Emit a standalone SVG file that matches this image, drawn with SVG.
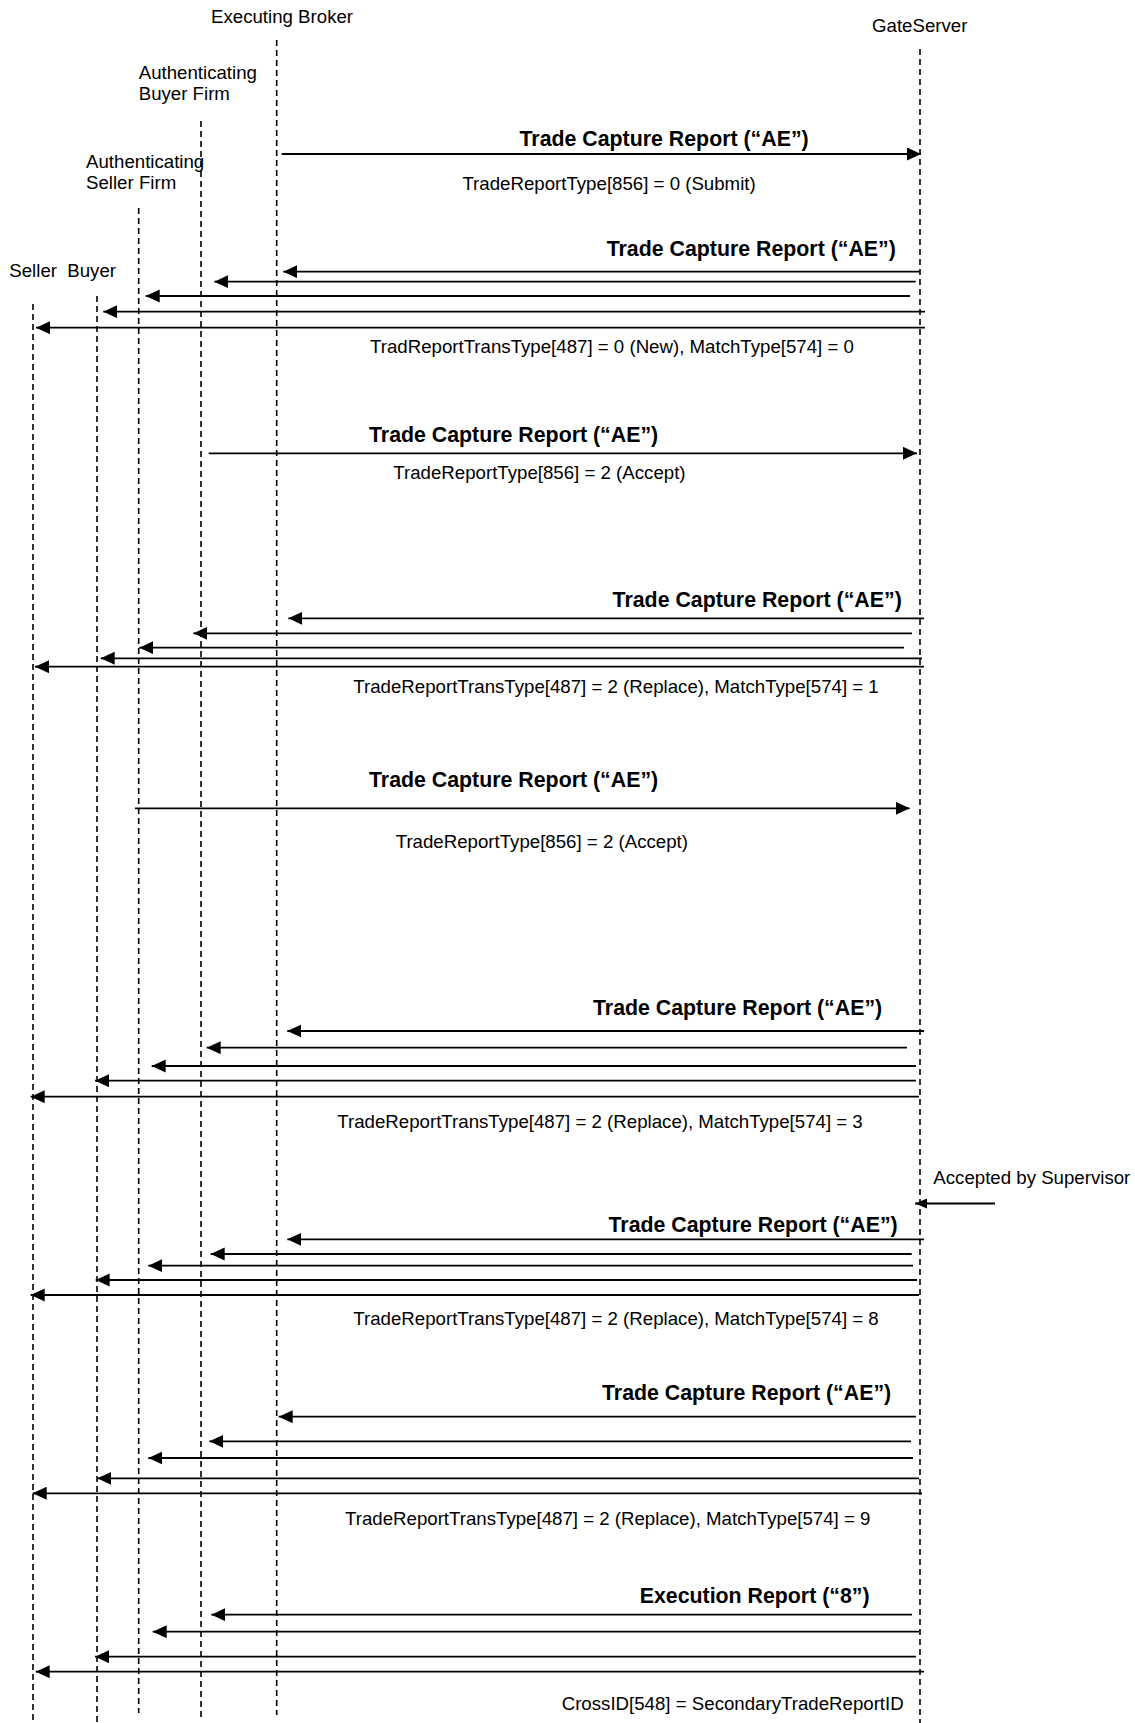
<svg xmlns="http://www.w3.org/2000/svg" width="1135" height="1723" viewBox="0 0 1135 1723">
<style>
text{font-family:"Liberation Sans",Arial,sans-serif;fill:#000}
.h{font-size:18.67px}
.b{font-size:21.33px;font-weight:bold}
.s{font-size:18.67px}
.life{stroke:#000;stroke-width:1.6;stroke-dasharray:6 4;fill:none}
.msg{stroke:#000;stroke-width:1.8;fill:none;marker-end:url(#ah)}
.sup{stroke:#000;stroke-width:1.8;fill:none;marker-end:url(#ahs)}
</style>
<defs>
<marker id="ah" markerUnits="userSpaceOnUse" markerWidth="15" markerHeight="14" refX="14" refY="6.5" orient="auto">
<path d="M0,0 L14,6.5 L0,13 z" fill="#000"/>
</marker>
<marker id="ahs" markerUnits="userSpaceOnUse" markerWidth="13" markerHeight="11" refX="12" refY="5" orient="auto">
<path d="M0,0 L12,5 L0,10 z" fill="#000"/>
</marker>
</defs>
<rect width="1135" height="1723" fill="#fff"/>

<g id="seller">
<text class="h" x="9.3" y="276.7">Seller</text>
<line class="life" x1="33" y1="304" x2="33" y2="1723"/>
</g>
<g id="buyer">
<text class="h" x="67.3" y="276.7">Buyer</text>
<line class="life" x1="97" y1="296" x2="97" y2="1723"/>
</g>
<g id="auth-seller-firm">
<text class="h" x="86" y="168.3">Authenticating</text>
<text class="h" x="86" y="189">Seller Firm</text>
<line class="life" x1="138.7" y1="208" x2="138.7" y2="1713"/>
</g>
<g id="auth-buyer-firm">
<text class="h" x="138.7" y="79.3">Authenticating</text>
<text class="h" x="138.7" y="100">Buyer Firm</text>
<line class="life" x1="201" y1="121" x2="201" y2="1717"/>
</g>
<g id="executing-broker">
<text class="h" x="211" y="22.5">Executing Broker</text>
<line class="life" x1="276.7" y1="40" x2="276.7" y2="1715"/>
</g>
<g id="gateserver">
<text class="h" x="872" y="31.5">GateServer</text>
<line class="life" x1="920" y1="49" x2="920" y2="1723"/>
</g>

<g id="connectors">
<!-- 1: submit -->
<line class="msg" x1="281.7" y1="154" x2="921" y2="154"/>
<!-- 2: new -->
<line class="msg" x1="920" y1="271.7" x2="283.3" y2="271.7"/>
<line class="msg" x1="915.7" y1="281.7" x2="214.3" y2="281.7"/>
<line class="msg" x1="910" y1="296" x2="145.7" y2="296"/>
<line class="msg" x1="925" y1="311.7" x2="103.3" y2="311.7"/>
<line class="msg" x1="925" y1="327.7" x2="36" y2="327.7"/>
<!-- 3: accept buyer -->
<line class="msg" x1="208.7" y1="453.3" x2="917" y2="453.3"/>
<!-- 4: replace 1 -->
<line class="msg" x1="924" y1="618.3" x2="288.3" y2="618.3"/>
<line class="msg" x1="912" y1="633.3" x2="193.3" y2="633.3"/>
<line class="msg" x1="904" y1="647.7" x2="139.3" y2="647.7"/>
<line class="msg" x1="922" y1="658.3" x2="100.7" y2="658.3"/>
<line class="msg" x1="924" y1="666.7" x2="35" y2="666.7"/>
<!-- 5: accept seller -->
<line class="msg" x1="135" y1="808.3" x2="909.7" y2="808.3"/>
<!-- 6: replace 3 -->
<line class="msg" x1="924" y1="1031" x2="287.3" y2="1031"/>
<line class="msg" x1="907" y1="1047.7" x2="206.7" y2="1047.7"/>
<line class="msg" x1="916" y1="1066" x2="151.7" y2="1066"/>
<line class="msg" x1="916" y1="1080.7" x2="95" y2="1080.7"/>
<line class="msg" x1="919" y1="1096.7" x2="30.7" y2="1096.7"/>
<!-- supervisor -->
<line class="sup" x1="995" y1="1203.5" x2="915" y2="1203.5"/>
<!-- 7: replace 8 -->
<line class="msg" x1="924" y1="1239.3" x2="287.3" y2="1239.3"/>
<line class="msg" x1="911.7" y1="1254" x2="210.7" y2="1254"/>
<line class="msg" x1="913" y1="1265.7" x2="148.3" y2="1265.7"/>
<line class="msg" x1="917" y1="1280" x2="95.7" y2="1280"/>
<line class="msg" x1="919" y1="1295" x2="30.7" y2="1295"/>
<!-- 8: replace 9 -->
<line class="msg" x1="916" y1="1416.7" x2="278.7" y2="1416.7"/>
<line class="msg" x1="911" y1="1441.3" x2="209.3" y2="1441.3"/>
<line class="msg" x1="913" y1="1458" x2="148.3" y2="1458"/>
<line class="msg" x1="919" y1="1478.3" x2="97.3" y2="1478.3"/>
<line class="msg" x1="922" y1="1493.3" x2="32.7" y2="1493.3"/>
<!-- 9: execution report -->
<line class="msg" x1="912" y1="1614.7" x2="211.3" y2="1614.7"/>
<line class="msg" x1="919" y1="1631.7" x2="152.7" y2="1631.7"/>
<line class="msg" x1="916" y1="1656.7" x2="95" y2="1656.7"/>
<line class="msg" x1="924" y1="1671.7" x2="35.7" y2="1671.7"/>
</g>

<g id="labels">
<text class="b" x="519.5" y="145.7">Trade Capture Report (“AE”)</text>
<text class="s" x="462.4" y="190">TradeReportType[856] = 0 (Submit)</text>

<text class="b" x="606.7" y="256">Trade Capture Report (“AE”)</text>
<text class="s" x="370" y="353">TradReportTransType[487] = 0 (New), MatchType[574] = 0</text>

<text class="b" x="369" y="441.7">Trade Capture Report (“AE”)</text>
<text class="s" x="393.3" y="479.3">TradeReportType[856] = 2 (Accept)</text>

<text class="b" x="612.6" y="606.7">Trade Capture Report (“AE”)</text>
<text class="s" x="353.3" y="692.7">TradeReportTransType[487] = 2 (Replace), MatchType[574] = 1</text>

<text class="b" x="369" y="786.7">Trade Capture Report (“AE”)</text>
<text class="s" x="395.7" y="848.3">TradeReportType[856] = 2 (Accept)</text>

<text class="b" x="593" y="1015">Trade Capture Report (“AE”)</text>
<text class="s" x="337.3" y="1128.3">TradeReportTransType[487] = 2 (Replace), MatchType[574] = 3</text>

<text class="s" x="933.3" y="1184">Accepted by Supervisor</text>

<text class="b" x="608.5" y="1231.7">Trade Capture Report (“AE”)</text>
<text class="s" x="353.3" y="1325">TradeReportTransType[487] = 2 (Replace), MatchType[574] = 8</text>

<text class="b" x="602" y="1400">Trade Capture Report (“AE”)</text>
<text class="s" x="345" y="1525">TradeReportTransType[487] = 2 (Replace), MatchType[574] = 9</text>

<text class="b" x="639.7" y="1603.3">Execution Report (“8”)</text>
<text class="s" x="561.7" y="1710">CrossID[548] = SecondaryTradeReportID</text>
</g>
</svg>
